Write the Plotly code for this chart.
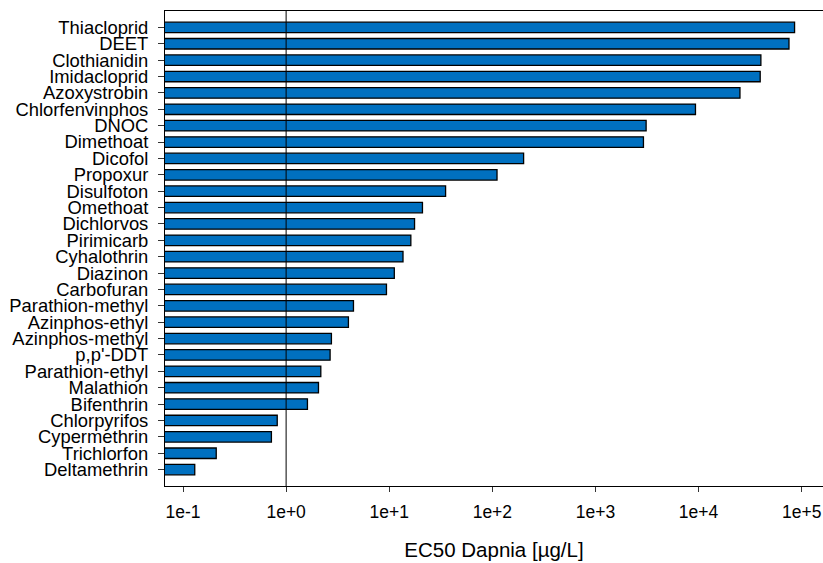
import plotly.graph_objects as go

# Pesticides, listed from the bottom bar to the top bar
substances = [
    "Deltamethrin", "Trichlorfon", "Cypermethrin", "Chlorpyrifos", "Bifenthrin",
    "Malathion", "Parathion-ethyl", "p,p'-DDT", "Azinphos-methyl", "Azinphos-ethyl",
    "Parathion-methyl", "Carbofuran", "Diazinon", "Cyhalothrin", "Pirimicarb",
    "Dichlorvos", "Omethoat", "Disulfoton", "Propoxur", "Dicofol",
    "Dimethoat", "DNOC", "Chlorfenvinphos", "Azoxystrobin", "Imidacloprid",
    "Clothianidin", "DEET", "Thiacloprid",
]

# EC50 for Daphnia in µg/L
ec50 = [
    0.13, 0.21, 0.72, 0.82, 1.61,
    2.06, 2.17, 2.67, 2.75, 4.02,
    4.50, 9.4, 11.2, 13.6, 16.2,
    17.6, 21.0, 35.2, 111, 201,
    2920, 3100, 9330, 25200, 39600,
    40200, 75300, 85300,
]

tick_values = [1e-1, 1e0, 1e1, 1e2, 1e3, 1e4, 1e5]
tick_labels = ["1e-1", "1e+0", "1e+1", "1e+2", "1e+3", "1e+4", "1e+5"]

FONT = "Liberation Sans, Arial, sans-serif"

fig = go.Figure(
    go.Bar(
        x=ec50,
        y=substances,
        orientation="h",
        marker=dict(color="#0070C0", line=dict(color="black", width=1.3)),
        width=0.64,
        hoverinfo="x+y",
    )
)

# reference line at EC50 = 1 µg/L
fig.add_shape(
    type="line", xref="x", yref="paper", x0=1, x1=1, y0=0, y1=1,
    line=dict(color="black", width=1), layer="above",
)

fig.update_layout(
    width=823,
    height=563,
    margin=dict(l=165, r=0, t=11, b=77),
    paper_bgcolor="white",
    plot_bgcolor="white",
    showlegend=False,
    font=dict(family=FONT, color="black"),
)

fig.update_xaxes(
    type="log",
    range=[-1.1746, 5.2067],
    tickmode="array",
    tickvals=tick_values,
    ticktext=tick_labels,
    ticks="outside",
    ticklen=5,
    tickwidth=1,
    tickcolor="#333333",
    tickfont=dict(size=17.5, family=FONT, color="black"),
    ticklabelstandoff=5,
    showgrid=False,
    zeroline=False,
    showline=True,
    linecolor="black",
    linewidth=1,
    mirror=True,
    automargin=False,
    title=dict(text="EC50 Dapnia [µg/L]", font=dict(size=20.5, family=FONT, color="black"), standoff=21),
)

fig.update_yaxes(
    type="category",
    categoryorder="array",
    categoryarray=substances,
    range=[-1, len(substances)],
    tickmode="array",
    tickvals=substances,
    ticktext=substances,
    ticks="outside",
    ticklen=6,
    tickwidth=1,
    tickcolor="#333333",
    tickfont=dict(size=18.4, family=FONT, color="black"),
    ticklabelstandoff=6,
    showgrid=False,
    zeroline=False,
    showline=True,
    linecolor="black",
    linewidth=1,
    mirror=False,
    automargin=False,
)

fig.write_html("out.html")
